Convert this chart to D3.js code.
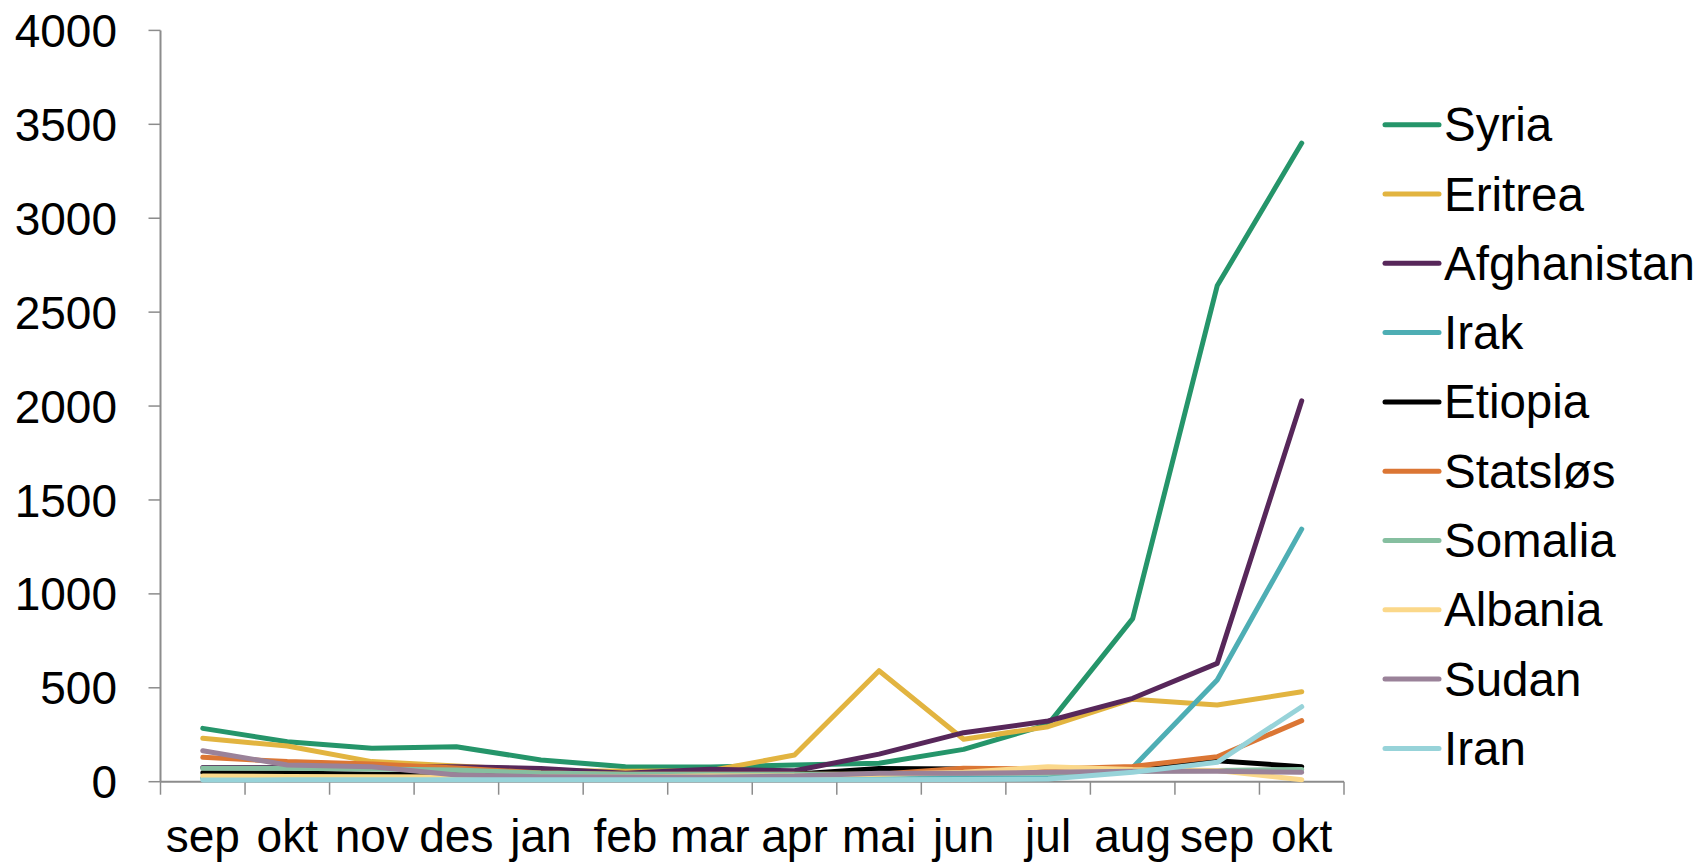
<!DOCTYPE html>
<html>
<head>
<meta charset="utf-8">
<script src="https://cdn.jsdelivr.net/npm/d3@7"></script>
<style>
  body { margin: 0; background: #fff; }
  svg text { font-family: "Liberation Sans", Arial, sans-serif; fill: #000; }
</style>
</head>
<body>
<div id="chart"></div>
<script>
// months (sep 2014 - okt 2015)
var months = ["sep", "okt", "nov", "des", "jan", "feb", "mar", "apr", "mai", "jun", "jul", "aug", "sep", "okt"];
var yTicks = [0, 500, 1000, 1500, 2000, 2500, 3000, 3500, 4000];

var countries = ["Syria", "Eritrea", "Afghanistan", "Irak", "Etiopia", "Statsløs", "Somalia", "Albania", "Sudan", "Iran"];
var colors = ["#25956a", "#e2b440", "#57275a", "#4eaeb4", "#000000", "#db7634", "#86bfa0", "#fbd88a", "#9a8299", "#97d3d9"];

var syria       = [284, 213, 178, 186, 116, 80, 78, 89, 98, 172, 305, 868, 2640, 3400];
var eritrea     = [231, 190, 107, 84, 60, 55, 58, 142, 591, 226, 293, 439, 408, 479];
var afghanistan = [75, 75, 78, 80, 70, 45, 66, 58, 147, 261, 323, 444, 630, 2028];
var irak        = [20, 20, 18, 15, 15, 15, 15, 15, 15, 20, 20, 75, 541, 1345];
var etiopia     = [48, 46, 40, 36, 30, 30, 35, 40, 70, 68, 62, 70, 112, 80];
var statslos    = [130, 107, 94, 73, 46, 40, 40, 40, 40, 71, 67, 81, 133, 325];
var somalia     = [71, 71, 68, 62, 46, 40, 40, 40, 40, 45, 45, 55, 60, 65];
var albania     = [30, 28, 26, 25, 25, 25, 30, 30, 40, 50, 80, 65, 60, 10];
var sudan       = [165, 89, 80, 36, 27, 25, 25, 30, 45, 45, 50, 55, 55, 50];
var iran        = [9, 10, 10, 10, 10, 10, 10, 10, 10, 12, 14, 50, 103, 399];

var seriesValues = [syria, eritrea, afghanistan, irak, etiopia, statslos, somalia, albania, sudan, iran];

var width = 1700, height = 863;
var svg = d3.select("#chart").append("svg").attr("width", width).attr("height", height);

// plot area
var plotLeft = 160.5, plotRight = 1344, plotTop = 30.4, plotBottom = 781.7;

var x = d3.scaleBand().domain(d3.range(months.length)).range([plotLeft, plotRight]).padding(0);
var y = d3.scaleLinear().domain([0, 4000]).range([plotBottom, plotTop]);

// y axis
var yAxis = svg.append("g");
yAxis.append("line").attr("x1", plotLeft).attr("x2", plotLeft).attr("y1", y(4000)).attr("y2", plotBottom)
  .attr("stroke", "#8c8c8c").attr("stroke-width", 2);
yAxis.selectAll(".yt").data(yTicks).enter().append("line")
  .attr("x1", plotLeft - 12).attr("x2", plotLeft).attr("y1", function(d){ return y(d); }).attr("y2", function(d){ return y(d); })
  .attr("stroke", "#8c8c8c").attr("stroke-width", 1.5);
yAxis.selectAll(".yl").data(yTicks).enter().append("text")
  .attr("x", 117).attr("y", function(d){ return y(d); }).attr("dy", "0.36em")
  .attr("text-anchor", "end").attr("font-size", 46).text(function(d){ return d; });

// x axis
var xAxis = svg.append("g");
xAxis.append("line").attr("x1", plotLeft).attr("x2", plotRight).attr("y1", plotBottom).attr("y2", plotBottom)
  .attr("stroke", "#8c8c8c").attr("stroke-width", 2);
var bounds = d3.range(months.length + 1).map(function(i){ return plotLeft + i * x.bandwidth(); });
xAxis.selectAll(".xt").data(bounds).enter().append("line")
  .attr("x1", function(d){ return d; }).attr("x2", function(d){ return d; })
  .attr("y1", plotBottom).attr("y2", plotBottom + 13)
  .attr("stroke", "#8c8c8c").attr("stroke-width", 1.5);
xAxis.selectAll(".xl").data(months).enter().append("text")
  .attr("x", function(d, i){ return x(i) + x.bandwidth() / 2; }).attr("y", 852)
  .attr("text-anchor", "middle").attr("font-size", 46).text(function(d){ return d; });

// lines
var line = d3.line()
  .x(function(d, i){ return x(i) + x.bandwidth() / 2; })
  .y(function(d){ return y(d); });

svg.append("g").selectAll("path").data(seriesValues).enter().append("path")
  .attr("d", line)
  .attr("fill", "none")
  .attr("stroke", function(d, i){ return colors[i]; })
  .attr("stroke-width", 5)
  .attr("stroke-linejoin", "round")
  .attr("stroke-linecap", "round");

// legend
var legend = svg.append("g").selectAll("g").data(countries).enter().append("g")
  .attr("transform", function(d, i){ return "translate(0," + (124.7 + i * 69.3) + ")"; });
legend.append("line").attr("x1", 1385).attr("x2", 1439).attr("y1", 0).attr("y2", 0)
  .attr("stroke", function(d, i){ return colors[i]; }).attr("stroke-width", 5).attr("stroke-linecap", "round");
legend.append("text").attr("x", 1444).attr("y", 16.5).attr("font-size", 47.5).text(function(d){ return d; });
</script>
</body>
</html>
